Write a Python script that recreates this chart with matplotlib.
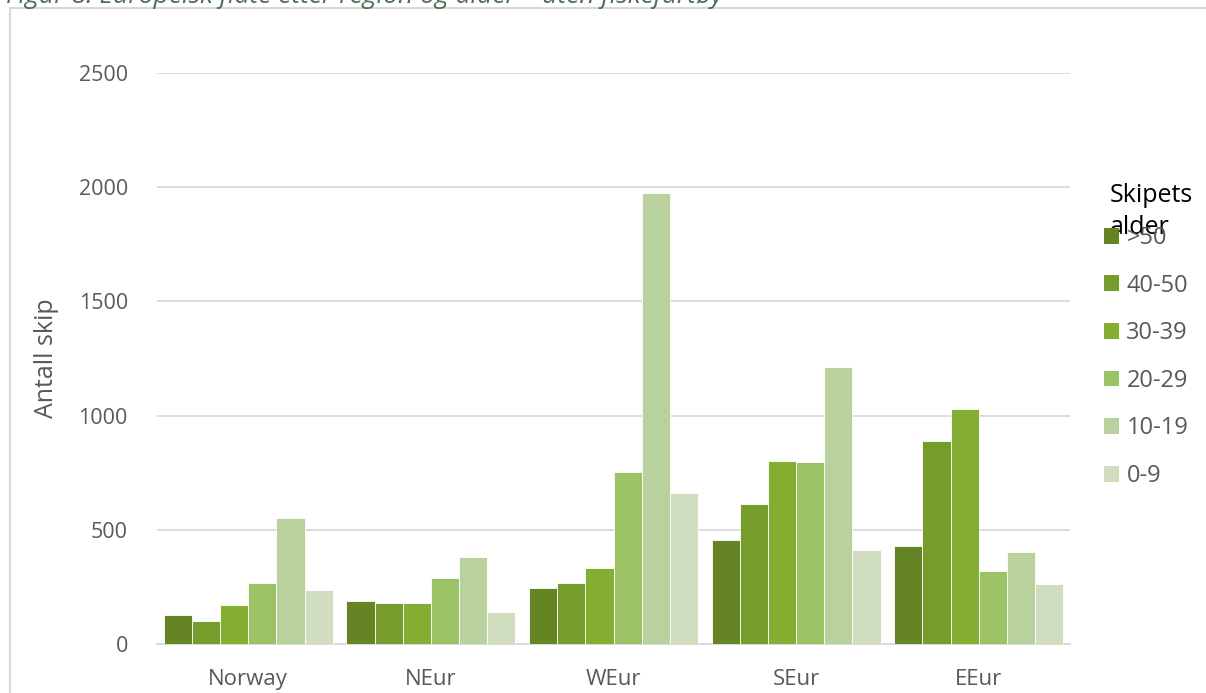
import matplotlib.pyplot as plt
import numpy as np
from matplotlib.patches import Rectangle, Patch

plt.rcParams['font.family'] = ['Open Sans', 'DejaVu Sans']

regions = ["Norway", "NEur", "WEur", "SEur", "EEur"]
age_groups = [">50", "40-50", "30-39", "20-29", "10-19", "0-9"]
counts = {
    ">50":   [128, 190, 245, 455, 428],
    "40-50": [100, 178, 268, 615, 888],
    "30-39": [170, 180, 332, 800, 1030],
    "20-29": [265, 288, 753, 797, 318],
    "10-19": [550, 380, 1975, 1212, 403],
    "0-9":   [238, 140, 660, 412, 263],
}
colors = ["#658524", "#769c2c", "#83ae32", "#9cc266", "#b9d19c", "#d0ddbf"]
yticks = [0, 500, 1000, 1500, 2000, 2500]

W, H = 1206, 693
fig = plt.figure(figsize=(W / 100, H / 100), dpi=100)

# chart-area frame and clipped caption above it
fig.patches.append(Rectangle((10 / W, -0.05), 1.1, 1 - 8 / H + 0.05,
                             transform=fig.transFigure, fill=False,
                             edgecolor="#d9d9d9", linewidth=1.5))
fig.text(6 / W, 1 - 3 / H,
         "Figur 8: Europeisk flåte etter region og alder \u2013 uten fiskefartøy",
         fontsize=19, style="italic", color="#4d6e52", va="baseline")

ax = fig.add_axes([157 / W, (H - 644) / H, (1070 - 157) / W, (644 - 73) / H])
x = np.arange(len(regions))
bw = 0.926 / len(age_groups)
for i, (age, c) in enumerate(zip(age_groups, colors)):
    ax.bar(x + (i - 2.5) * bw, counts[age], width=bw, color=c,
           edgecolor="white", linewidth=0.6, zorder=3)

ax.set_xlim(-0.5, len(regions) - 0.5)
ax.set_ylim(0, 2500)
ax.set_yticks(yticks)
ax.set_xticks(x)
ax.set_xticklabels(regions)
ax.grid(axis="y", color="#d9d9d9", linewidth=1.3, zorder=0)
for s in ["top", "right", "left"]:
    ax.spines[s].set_visible(False)
ax.spines["bottom"].set_color("#d9d9d9")
ax.spines["bottom"].set_linewidth(1.3)
ax.tick_params(axis="both", length=0, labelcolor="#595959")
ax.tick_params(axis="y", pad=21, labelsize=15.5)
ax.tick_params(axis="x", pad=18, labelsize=16)
ax.set_ylabel("Antall skip", fontsize=18, color="#595959", labelpad=14)

handles = [Patch(facecolor=c, edgecolor="none") for c in colors]
fig.legend(handles, age_groups, loc="upper left",
           bbox_to_anchor=(1104 / W, 1 - 226 / H), frameon=False,
           fontsize=17, labelcolor="#595959", handlelength=0.65,
           handleheight=0.65, handletextpad=0.3, labelspacing=1.0,
           borderaxespad=0, borderpad=0)
fig.text(1110 / W, 1 - 195 / H, "Skipets", fontsize=18, color="black",
         va="center")
fig.text(1110 / W, 1 - 228 / H, "alder", fontsize=18, color="black",
         va="center")

fig.savefig("out.png", dpi=100)
